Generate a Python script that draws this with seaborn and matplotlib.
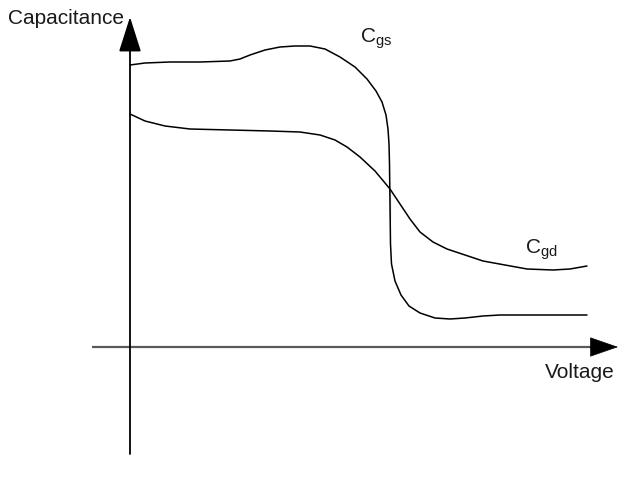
import pandas as pd
import seaborn as sns
import matplotlib.pyplot as plt

# curve values (arbitrary units, origin at axis crossing)
cgs_voltage = [0, 0.15, 0.40, 0.70, 1.00, 1.10, 1.20, 1.35, 1.50, 1.65, 1.80, 1.95, 2.10, 2.25, 2.37, 2.46,
               2.52, 2.56, 2.58, 2.59, 2.595, 2.60, 2.60, 2.605, 2.615, 2.65, 2.71, 2.79, 2.90, 3.05, 3.20, 3.35,
               3.53, 3.70, 4.57]
cgs_cap = [2.82, 2.84, 2.85, 2.85, 2.86, 2.88, 2.92, 2.97, 3.00, 3.01, 3.01, 2.98, 2.90, 2.80, 2.68, 2.56,
           2.45, 2.32, 2.18, 2.03, 1.83, 1.58, 1.28, 1.03, 0.83, 0.66, 0.52, 0.41, 0.34, 0.29, 0.28, 0.29,
           0.31, 0.32, 0.32]
cgd_voltage = [0, 0.15, 0.35, 0.60, 1.00, 1.40, 1.70, 1.90, 2.05, 2.17, 2.30, 2.45, 2.60, 2.70, 2.80, 2.90,
               3.03, 3.17, 3.35, 3.53, 3.75, 3.97, 4.23, 4.40, 4.57]
cgd_cap = [2.33, 2.26, 2.21, 2.18, 2.17, 2.16, 2.15, 2.12, 2.07, 2.00, 1.90, 1.76, 1.58, 1.43, 1.28, 1.15,
           1.05, 0.98, 0.92, 0.86, 0.82, 0.78, 0.77, 0.78, 0.81]

sns.set_style("white")
plt.rcParams['font.family'] = ['Liberation Sans', 'DejaVu Sans']
plt.rcParams['mathtext.fontset'] = 'custom'
plt.rcParams['mathtext.rm'] = 'Liberation Sans'

fig = plt.figure(figsize=(6.18, 4.81), dpi=100)
ax = fig.add_axes([0, 0, 1, 1])

df_gs = pd.DataFrame({"Voltage": cgs_voltage, "Capacitance": cgs_cap})
df_gd = pd.DataFrame({"Voltage": cgd_voltage, "Capacitance": cgd_cap})
sns.lineplot(data=df_gs, x="Voltage", y="Capacitance", sort=False, color="black", lw=1.1, ax=ax)
sns.lineplot(data=df_gd, x="Voltage", y="Capacitance", sort=False, color="black", lw=1.1, ax=ax)

# horizontal axis: grey line, black arrow head
ax.plot([-0.38, 4.70], [0, 0], color="#5a5a5a", lw=1.6, solid_capstyle="butt")
ax.annotate("", xy=(4.88, 0), xytext=(4.60, 0),
            arrowprops=dict(arrowstyle="-|>,head_length=0.95,head_width=0.33", mutation_scale=20,
                            lw=0.5, color="black", shrinkA=0, shrinkB=0))
# vertical axis
ax.annotate("", xy=(0, 3.30), xytext=(0, -1.07),
            arrowprops=dict(arrowstyle="-|>,head_length=1.1,head_width=0.35", mutation_scale=20,
                            lw=1.3, color="black", shrinkA=0, shrinkB=0))

ax.text(-1.22, 3.29, "Capacitance", fontsize=15, ha="left", va="center", color="#1a1a1a")
ax.text(4.15, -0.25, "Voltage", fontsize=15, ha="left", va="center", color="#1a1a1a")
ax.text(2.30, 3.06, r"C$_{\mathrm{gs}}$", fontsize=15, ha="left", va="baseline", color="#1a1a1a")
ax.text(3.95, 0.95, r"C$_{\mathrm{gd}}$", fontsize=15, ha="left", va="baseline", color="#1a1a1a")

ax.set_xlim(-1.30, 4.88)
ax.set_ylim(-1.33, 3.48)
ax.axis("off")

plt.savefig("out.png", dpi=100)
